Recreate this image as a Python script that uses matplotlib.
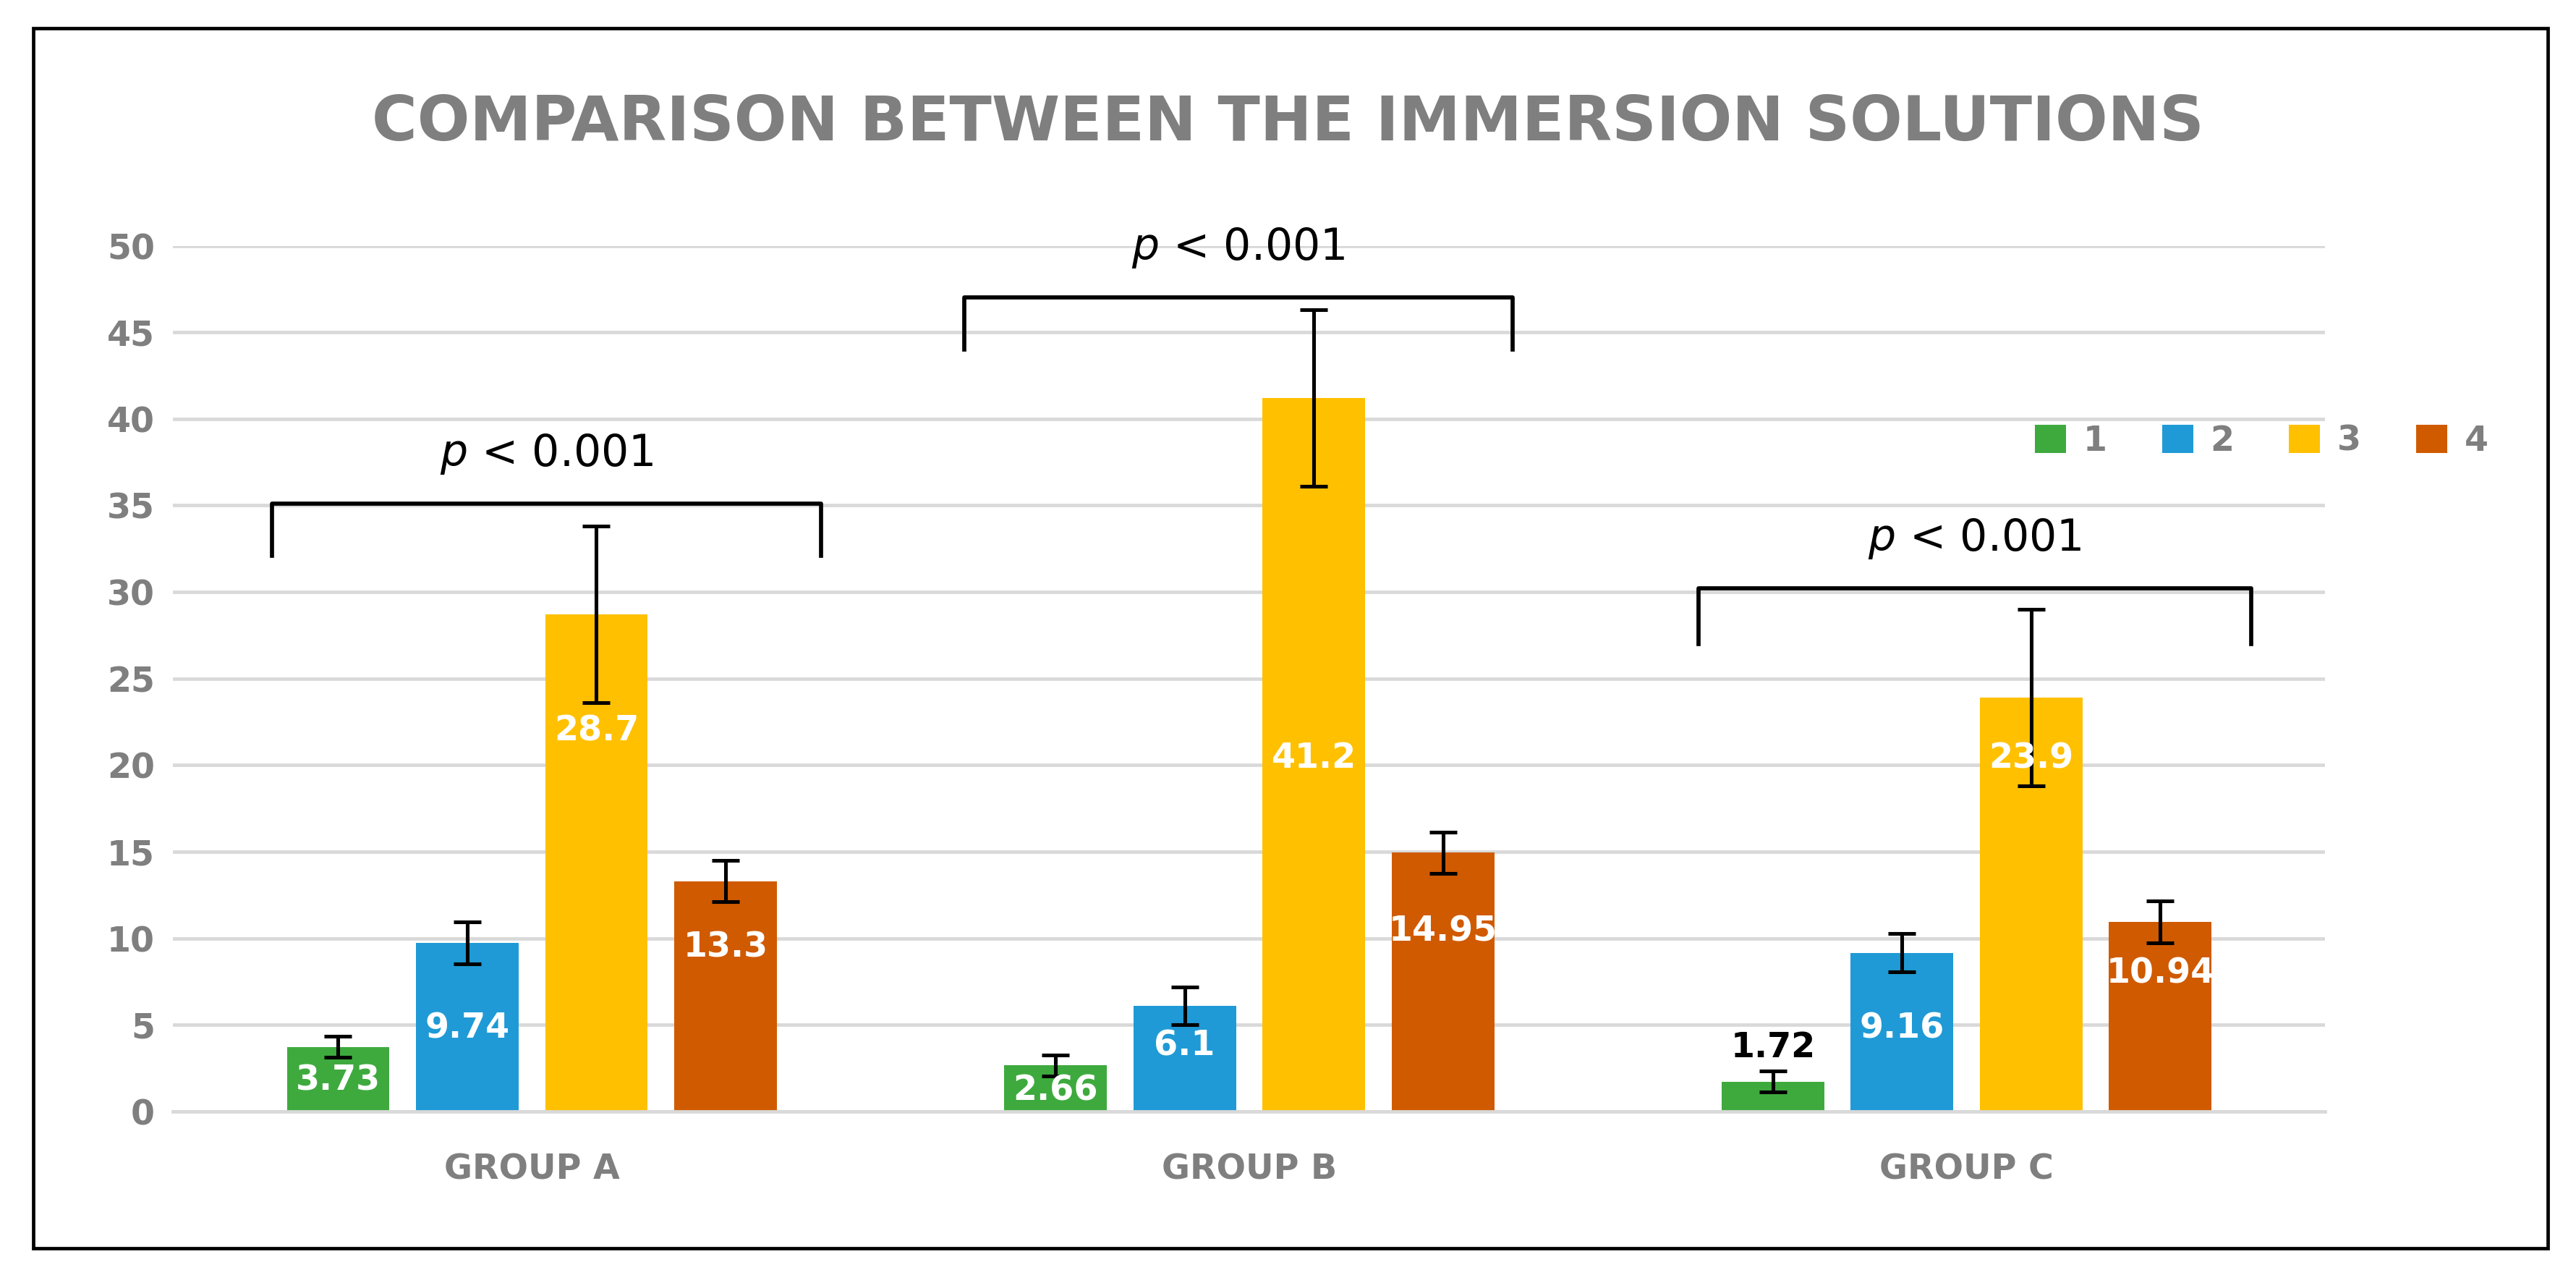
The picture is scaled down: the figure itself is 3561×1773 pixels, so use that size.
import numpy as np
import matplotlib.pyplot as plt
from matplotlib.patches import Rectangle

groups = ['GROUP A', 'GROUP B', 'GROUP C']
series = ['1', '2', '3', '4']
values = np.array([[3.73, 9.74, 28.7, 13.3],
                   [2.66, 6.1, 41.2, 14.95],
                   [1.72, 9.16, 23.9, 10.94]])
errors = np.array([[0.6, 1.2, 5.1, 1.2],
                   [0.6, 1.1, 5.1, 1.2],
                   [0.6, 1.1, 5.1, 1.2]])
labels = [['3.73', '9.74', '28.7', '13.3'],
          ['2.66', '6.1', '41.2', '14.95'],
          ['1.72', '9.16', '23.9', '10.94']]
label_y = [[1.8, 4.8, 22.0, 9.5],
           [1.2, 3.8, 20.4, 10.4],
           [3.7, 4.8, 20.4, 8.0]]
bracket_y = [(32.1, 35.1), (44.0, 47.0), (27.0, 30.2)]
bracket_x = [(-0.362, 0.403), (0.603, 1.367), (1.626, 2.397)]
colors = ['#3EAA3E', '#1F9AD6', '#FFC000', '#D05A00']

W, H, DPI = 3561, 1773, 228
fig = plt.figure(figsize=(W / DPI, H / DPI), dpi=DPI)
fig.patch.set_facecolor('white')
fig.add_artist(Rectangle((20 / 1562, 1 - 757 / 778), 1525 / 1562, 740 / 778,
                         transform=fig.transFigure, fill=False, lw=1.5, ec='black'))

ax = fig.add_axes([105 / 1562, 1 - 674 / 778, 1305 / 1562, 525 / 778])
ax.set_xlim(-0.5, 2.5)
ax.set_ylim(0, 50)
ax.set_yticks(range(0, 51, 5))
ax.yaxis.grid(True, color='#D9D9D9', lw=1.5)
ax.set_axisbelow(True)
for s in ['top', 'right', 'left']:
    ax.spines[s].set_visible(False)
ax.spines['bottom'].set_color('#D9D9D9')
ax.spines['bottom'].set_linewidth(1.5)
ax.tick_params(length=0, labelsize=15, labelcolor='#7F7F7F', pad=8)
for t in ax.get_yticklabels():
    t.set_fontweight('bold')
ax.set_xticks(range(3))
ax.set_xticklabels(groups, fontsize=15, fontweight='bold', color='#7F7F7F')
ax.tick_params(axis='x', pad=18)

x = np.arange(3)
bw, step = 0.143, 0.18
for j in range(4):
    xs = x + (j - 1.5) * step
    ax.bar(xs, values[:, j], bw, color=colors[j], label=series[j],
           yerr=errors[:, j], capsize=6,
           error_kw=dict(elinewidth=1.6, capthick=1.6, ecolor='black', zorder=3))
    for i in range(3):
        c = 'black' if values[i, j] < 2 else 'white'
        ax.text(xs[i], label_y[i][j], labels[i][j], ha='center', va='center',
                fontsize=15, fontweight='bold', color=c, zorder=4)

for i in range(3):
    lo, hi = bracket_y[i]
    x0, x1 = bracket_x[i]
    ax.plot([x0, x0, x1, x1], [lo, hi, hi, lo], color='black', lw=1.8,
            clip_on=False)
    ax.text((x0 + x1) / 2, hi + 1.6, r'$p$ < 0.001', ha='center', va='bottom',
            fontsize=19)

ax.legend(loc='upper right', bbox_to_anchor=(1.09, 0.83), ncol=4, frameon=False,
          prop=dict(size=15, weight='bold'), labelcolor='#7F7F7F',
          handlelength=0.9, handleheight=0.9, columnspacing=1.6, handletextpad=0.5)

fig.text(0.5, 1 - 75 / 778, 'COMPARISON BETWEEN THE IMMERSION SOLUTIONS',
         ha='center', va='center', fontsize=27, fontweight='bold', color='#7F7F7F')

fig.savefig('out.png', dpi=DPI, facecolor='white')
